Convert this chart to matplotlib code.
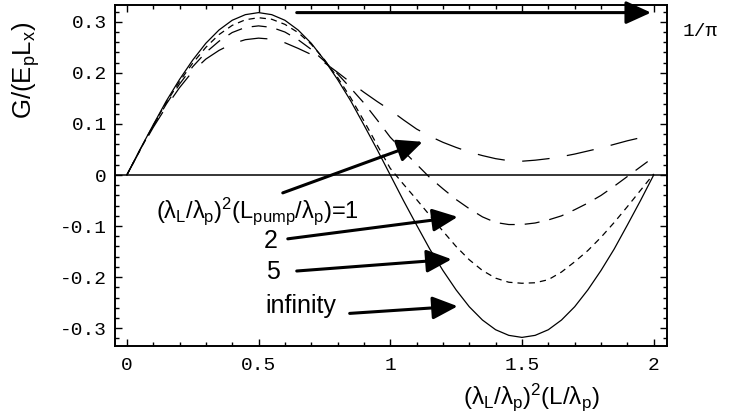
import numpy as np
import matplotlib
matplotlib.use('Agg')
import matplotlib.pyplot as plt
from matplotlib.ticker import MultipleLocator

plt.rcParams['axes.unicode_minus'] = False
plt.rcParams['mathtext.fontset'] = 'custom'
plt.rcParams['mathtext.rm'] = 'Liberation Sans'
plt.rcParams['mathtext.it'] = 'Liberation Sans'

# x = (lambda_L/lambda_p)^2 (L/lambda_p)
x = [0.00, 0.05, 0.10, 0.15, 0.20, 0.25, 0.30, 0.35, 0.40, 0.45,
     0.50, 0.55, 0.60, 0.65, 0.70, 0.75, 0.80, 0.85, 0.90, 0.95,
     1.00, 1.05, 1.10, 1.15, 1.20, 1.25, 1.30, 1.35, 1.40, 1.45,
     1.50, 1.55, 1.60, 1.65, 1.70, 1.75, 1.80, 1.85, 1.90, 1.95, 2.00]

# G/(E_p L_x), one list per pump length
g_1 = [0, 0.048, 0.093, 0.134, 0.171, 0.203, 0.227, 0.244, 0.257, 0.265,
       0.268, 0.266, 0.259, 0.248, 0.236, 0.220, 0.201, 0.181, 0.162, 0.144,
       0.127, 0.108, 0.090, 0.076, 0.064, 0.054, 0.045, 0.038, 0.032, 0.028,
       0.027, 0.029, 0.032, 0.036, 0.041, 0.047, 0.053, 0.060, 0.067, 0.073, 0.078]
g_2 = [0, 0.049, 0.096, 0.139, 0.178, 0.212, 0.240, 0.262, 0.279, 0.289,
       0.292, 0.289, 0.280, 0.265, 0.246, 0.223, 0.198, 0.170, 0.141, 0.108,
       0.074, 0.047, 0.021, -0.005, -0.027, -0.048, -0.066, -0.082, -0.093, -0.097,
       -0.097, -0.094, -0.088, -0.080, -0.068, -0.055, -0.040, -0.022, -0.003, 0.016, 0.035]
g_5 = [0, 0.049, 0.097, 0.142, 0.183, 0.219, 0.250, 0.275, 0.293, 0.304,
       0.308, 0.305, 0.295, 0.279, 0.256, 0.226, 0.191, 0.151, 0.106, 0.059,
       0.013, -0.018, -0.048, -0.079, -0.110, -0.140, -0.166, -0.187, -0.202, -0.210,
       -0.212, -0.211, -0.205, -0.190, -0.170, -0.148, -0.122, -0.093, -0.062, -0.030, 0.002]
g_inf = [0, 0.050, 0.098, 0.145, 0.187, 0.225, 0.258, 0.284, 0.303, 0.314,
         0.318, 0.314, 0.303, 0.284, 0.258, 0.225, 0.187, 0.145, 0.098, 0.050,
         0, -0.050, -0.098, -0.145, -0.187, -0.225, -0.258, -0.284, -0.303, -0.314,
         -0.318, -0.314, -0.303, -0.284, -0.258, -0.225, -0.187, -0.145, -0.098, -0.050, 0]

one_over_pi = 0.318

fig = plt.figure(figsize=(7.3, 4.12), dpi=100)
ax = fig.add_axes([0.1575, 0.160, 0.756, 0.828])

lw = 0.9
ax.plot(x, g_1, color='k', lw=lw, dashes=(22, 14))
ax.plot(x, g_2, color='k', lw=lw, dashes=(12, 8))
ax.plot(x, g_5, color='k', lw=lw, dashes=(5, 4))
ax.plot(x, g_inf, color='k', lw=lw)
ax.axhline(0, color='k', lw=1.1)

ax.set_xlim(-0.045, 2.05)
ax.set_ylim(-0.335, 0.333)

# frame ticks, Mathematica style
ax.xaxis.set_major_locator(MultipleLocator(0.5))
ax.xaxis.set_minor_locator(MultipleLocator(0.1))
ax.yaxis.set_major_locator(MultipleLocator(0.1))
ax.yaxis.set_minor_locator(MultipleLocator(0.02))
ax.set_xticks([0, 0.5, 1, 1.5, 2], ['0', '0.5', '1', '1.5', '2'])
ax.set_yticks([-0.3, -0.2, -0.1, 0, 0.1, 0.2, 0.3],
              ['-0.3', '-0.2', '-0.1', '0', '0.1', '0.2', '0.3'])
ax.tick_params(which='both', direction='in', top=True, right=True, width=1.0)
ax.tick_params(which='major', length=5)
ax.tick_params(which='minor', length=3)
ax.tick_params(axis='x', pad=8)
ax.tick_params(axis='y', pad=6)
for lab in ax.get_xticklabels() + ax.get_yticklabels():
    lab.set_fontfamily('Liberation Mono')
    lab.set_fontsize(14)
for sp in ax.spines.values():
    sp.set_linewidth(1.4)

ax.set_ylabel(r'G/(E$_{\mathrm{p}}$L$_{\mathrm{x}}$)', fontsize=18.5, family='Liberation Sans')
ax.yaxis.label.set_va('center')
ax.yaxis.set_label_coords(-0.161, 0.809)
ax.set_xlabel(r'($\lambda_{\mathrm{L}}$/$\lambda_{\mathrm{p}}$)$^2$(L/$\lambda_{\mathrm{p}}$)',
              fontsize=17.5, family='Liberation Sans')
ax.xaxis.label.set_va('center')
ax.xaxis.set_label_coords(0.754, -0.150)

arrow = dict(arrowstyle='-|>,head_length=0.55,head_width=0.25', color='k', lw=2.2,
             mutation_scale=28, shrinkA=0, shrinkB=0)
ax.annotate('', xy=(1.99, one_over_pi), xytext=(0.645, one_over_pi), arrowprops=arrow)
ax.text(2.11, 0.281, '1/\u03c0', family='Liberation Mono', fontsize=14,
        va='center', ha='left', clip_on=False)

label_font = dict(family='Liberation Sans', ha='center', va='center')
ax.text(0.497, -0.070,
        r'($\lambda_{\mathrm{L}}$/$\lambda_{\mathrm{p}}$)$^2$(L$_{\mathrm{pump}}$/$\lambda_{\mathrm{p}}$)=1',
        fontsize=17, **label_font)
ax.text(0.546, -0.129, '2', fontsize=18, **label_font)
ax.text(0.555, -0.190, '5', fontsize=18, **label_font)
ax.text(0.66, -0.256, 'infinity', fontsize=18, **label_font)

ax.annotate('', xy=(1.123, 0.065), xytext=(0.592, -0.035), arrowprops=arrow)
ax.annotate('', xy=(1.256, -0.082), xytext=(0.611, -0.125), arrowprops=arrow)
ax.annotate('', xy=(1.233, -0.165), xytext=(0.645, -0.188), arrowprops=arrow)
ax.annotate('', xy=(1.256, -0.257), xytext=(0.846, -0.271), arrowprops=arrow)

fig.savefig('out.png', dpi=100)
